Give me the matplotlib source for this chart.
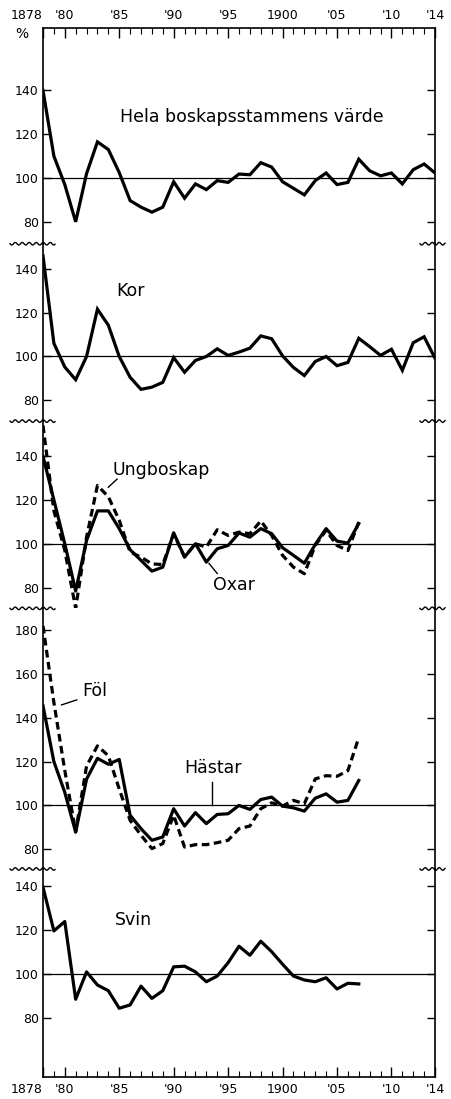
import numpy as np
import matplotlib
matplotlib.use('Agg')
import matplotlib.pyplot as plt
from matplotlib.lines import Line2D

# years 1878..1914
years = list(range(1878, 1915))
years_short = list(range(1878, 1908))

# values (% of previous year)
hela = [140, 110, 97, 80, 102, 116.5, 113, 102.5, 89.7, 86.7, 84.4, 86.7, 98.3, 90.8,
        97.3, 94.7, 98.8, 98, 101.8, 101.5, 107, 105, 98.3, 95.3, 92.3, 98.8, 102.3,
        97, 98, 108.6, 103.3, 101, 102.3, 97.3, 103.8, 106.4, 102.3]
kor = [146, 106, 95.2, 89.4, 100, 121.6, 114.3, 100, 90.5, 85, 86, 88.2, 99.5, 92.8,
       98.2, 100, 103.5, 100.5, 102, 103.8, 109.4, 108.1, 100.3, 95, 91.3, 97.7, 100,
       95.8, 97.3, 108.3, 104.5, 100.5, 103.3, 93.7, 106.3, 109, 99.2]
oxar = [140, 120, 100, 78.4, 101.5, 115, 115, 106.9, 97.3, 92.4, 87.5, 89.3, 105, 93.9,
        100, 91.6, 97.7, 99.2, 104.9, 103, 106.9, 104.6, 98.2, 94.7, 91.1, 99.7, 106.9,
        101.2, 100.3, 109.2]
ungboskap = [154, 115, 97, 70.5, 103, 126.6, 121.5, 110.7, 96.2, 93.9, 90.8, 90.5, 104.5,
             94, 100, 98.5, 106.4, 103.8, 105.3, 104.6, 110.4, 103.8, 94.7, 89.3, 86.3,
             99.2, 106.1, 99.2, 96.9, 109.9]
hastar = [145.5, 120, 106, 87.8, 112, 121.5, 118.8, 121, 95.5, 89.4, 84.1, 85.6, 98.5,
          90.6, 96.7, 91.7, 95.9, 96.2, 100, 98.2, 102.7, 103.8, 99.7, 98.9, 97.4, 103.3,
          105.3, 101.5, 102.3, 111.4]
fol = [182, 147, 116, 88, 118, 127.2, 122.7, 107.5, 93.2, 86.4, 80.3, 82.6, 95.5, 81,
       82.1, 82.1, 83, 84.1, 89.4, 90.6, 98.5, 101.2, 99.7, 102.3, 100.8, 112.1, 113.6,
       113.3, 115.9, 131]
svin = [139.7, 119.7, 124, 88.5, 101, 95, 92.4, 84.4, 85.9, 94.5, 88.9, 92.4, 103.3,
        103.6, 101, 96.5, 99.1, 105.2, 112.7, 108.6, 115, 110.2, 104.5, 99.1, 97.3, 96.5,
        98.3, 93.2, 95.8, 95.5]

tick_years = [1878, 1880, 1885, 1890, 1895, 1900, 1905, 1910, 1914]
tick_labels = ['1878', "'80", "'85", "'90", "'95", '1900', "'05", "'10", "'14"]

# y-range of each panel and its y ticks
ylims = [(70, 168.5), (70.5, 151.5), (70.5, 156), (71, 190), (53, 148)]
yticks = [[80, 100, 120, 140], [80, 100, 120, 140], [80, 100, 120, 140],
          [80, 100, 120, 140, 160, 180], [80, 100, 120, 140]]

W, H = 451, 1099
fig = plt.figure(figsize=(W / 100, H / 100), dpi=100)

left_px, right_px = 43, 435
top_px, bot_px = 28, 1077
spans = [hi - lo for lo, hi in ylims]
px_per_unit = (bot_px - top_px) / sum(spans)

axes = []
y = top_px
for lo_hi, span in zip(ylims, spans):
    h = span * px_per_unit
    ax = fig.add_axes([left_px / W, 1 - (y + h) / H, (right_px - left_px) / W, h / H])
    ax.set_ylim(*lo_hi)
    ax.set_xlim(1878, 1914)
    axes.append(ax)
    y += h

lw = 2.3
dash = (0, (2.4, 1.4))
for i, ax in enumerate(axes):
    ax.axhline(100, color='black', lw=0.9, zorder=1)
    ax.set_yticks(yticks[i])
    ax.tick_params(axis='y', direction='in', left=True, right=True, length=6, width=1,
                   labelsize=9, pad=3)
    for s in ['left', 'right']:
        ax.spines[s].set_linewidth(1.2)
    if i > 0:
        ax.spines['top'].set_visible(False)
    if i < len(axes) - 1:
        ax.spines['bottom'].set_visible(False)
    ax.set_xticks([])
    ax.patch.set_visible(False)

axes[0].plot(years, hela, color='black', lw=lw, solid_joinstyle='miter')
axes[1].plot(years, kor, color='black', lw=lw, solid_joinstyle='miter')
axes[2].plot(years_short, oxar, color='black', lw=lw)
axes[2].plot(years_short, ungboskap, color='black', lw=lw, linestyle=dash)
axes[3].plot(years_short, hastar, color='black', lw=lw)
axes[3].plot(years_short, fol, color='black', lw=lw, linestyle=dash)
axes[4].plot(years_short, svin, color='black', lw=lw)

# year ticks on top and bottom
for ax, where in [(axes[0], 'top'), (axes[-1], 'bottom')]:
    ax.spines[where].set_linewidth(1.2)
    ax.set_xticks(tick_years)
    ax.set_xticks(years, minor=True)
    ax.set_xticklabels(tick_labels)
    ax.tick_params(axis='x', which='both', direction='in', top=(where == 'top'),
                   bottom=(where == 'bottom'), labeltop=(where == 'top'),
                   labelbottom=(where == 'bottom'), labelsize=9, pad=4)
    ax.tick_params(axis='x', which='major', length=7, width=1)
    ax.tick_params(axis='x', which='minor', length=4, width=0.8)
    ax.get_xticklabels()[0].set_ha('right')

fs = 12.5
axes[0].text(1885.1, 127.7, 'Hela boskapsstammens värde', fontsize=fs, va='center')
axes[1].text(1884.7, 130, 'Kor', fontsize=fs, va='center')
axes[2].text(1884.4, 133.5, 'Ungboskap', fontsize=fs, va='center')
axes[2].plot([1884.8, 1884.0], [129.5, 125.8], color='black', lw=1)
axes[2].text(1893.6, 81, 'Oxar', fontsize=fs, va='center')
axes[2].plot([1893.25, 1894.0], [91, 86.4], color='black', lw=1)
axes[3].text(1881.6, 152.3, 'Föl', fontsize=fs, va='center')
axes[3].plot([1879.7, 1881.1], [145.9, 148.2], color='black', lw=1)
axes[3].text(1891.0, 117, 'Hästar', fontsize=fs, va='center')
axes[3].plot([1893.5, 1893.5], [110.5, 100], color='black', lw=1)
axes[4].text(1884.6, 124.5, 'Svin', fontsize=fs, va='center')

fig.text(22 / W, 1 - 34 / H, '%', fontsize=10, ha='center', va='center')

# wavy break marks between panels
def squiggle(x0, x1, ypx):
    xs = np.linspace(x0, x1, 60)
    ys = ypx + 1.3 * np.sin((xs - x0) / 7.0 * 2 * np.pi)
    fig.add_artist(Line2D(xs / W, 1 - ys / H, color='black', lw=1))

for ax in axes[:-1]:
    ypx = (1 - ax.get_position().y0) * H
    squiggle(10, 55, ypx)
    squiggle(420, 445, ypx)

fig.savefig('out.png', dpi=100)
